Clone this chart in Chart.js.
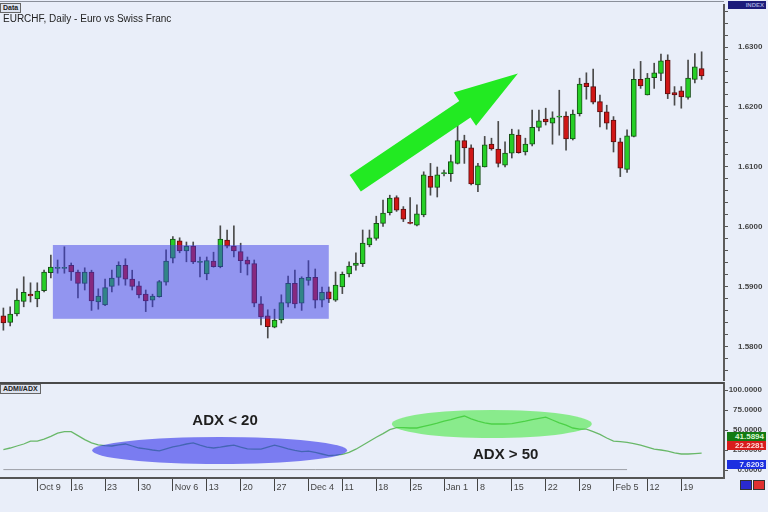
<!DOCTYPE html>
<html>
<head>
<meta charset="utf-8">
<script src="https://cdn.jsdelivr.net/npm/chart.js@4.4.1/dist/chart.umd.min.js"></script>
<style>
  body { margin: 0; background: #e9eef9; }
  #wrap { position: relative; width: 768px; height: 512px; overflow: hidden; background: #e9eef9; font-family: "Liberation Sans", Arial, sans-serif; }
  canvas { position: absolute; left: 0; }
  #priceChart { top: 0; }
  #adxChart { top: 381px; }
  .tag { position: absolute; font-size: 7px; font-weight: bold; line-height: 8px; box-sizing: border-box; }
  #dataTag { left: 0; top: 3px; padding: 0 2px; border: 1px solid #666; background: #dde3ef; color: #222; }
  #adxTag { left: 0; top: 384px; padding: 0 2px; border: 1px solid #666; background: #dde3ef; color: #222; }
  #title { position: absolute; left: 3px; top: 13px; font-size: 10px; color: #222; }
  #indexTag { left: 728px; top: 1px; width: 38px; height: 8px; background: #1b1b7a; color: #9aa0d8; text-align: right; padding-right: 2px; font-size: 6px; }
  .val { position: absolute; left: 727px; width: 39px; height: 9px; font-size: 8px; font-weight: bold; line-height: 9px; text-align: right; padding-right: 2px; box-sizing: border-box; }
  #plusDi { top: 432px; background: #137a13; color: #d8f5d0; }
  #minusDi { top: 441px; background: #d81c1c; color: #ffd8d8; }
  #adxVal { top: 460px; background: #1c2fe0; color: #e4e8ff; }
  .btn { position: absolute; top: 480px; width: 12px; height: 10px; box-sizing: border-box; border: 1px solid #333; }
</style>
</head>
<body>
<div id="wrap">
  <canvas id="priceChart" width="768" height="381"></canvas>
  <canvas id="adxChart" width="768" height="131"></canvas>
  <div id="dataTag" class="tag">Data</div>
  <div id="title">EURCHF, Daily - Euro vs Swiss Franc</div>
  <div id="indexTag" class="tag">INDEX</div>
  <div id="adxTag" class="tag">ADMI/ADX</div>
  <div id="plusDi" class="val">41.5894</div>
  <div id="minusDi" class="val">22.2281</div>
  <div id="adxVal" class="val">7.6203</div>
  <div class="btn" style="left:740px;background:#2a2ad0;"></div>
  <div class="btn" style="left:753px;background:#e03030;"></div>
</div>
<script>
// daily EURCHF candles, Oct 2 .. Feb 22
const open = [
  1.5852, 1.5841, 1.5855, 1.5876, 1.5888, 1.5880, 1.5894, 1.5924, 1.5931, 1.5931,
  1.5936, 1.5925, 1.5906, 1.5925, 1.5875, 1.5870, 1.5901, 1.5916, 1.5936, 1.5913,
  1.5902, 1.5888, 1.5878, 1.5884, 1.5908, 1.5948, 1.5977, 1.5960, 1.5968, 1.5941,
  1.5922, 1.5943, 1.5934, 1.5978, 1.5968, 1.5959, 1.5945, 1.5939, 1.5872, 1.5852,
  1.5833, 1.5845, 1.5873, 1.5906, 1.5873, 1.5911, 1.5916, 1.5878, 1.5892, 1.5878,
  1.5900, 1.5922, 1.5936, 1.5939, 1.5970, 1.5981, 1.6006, 1.6024, 1.6049, 1.6030,
  1.6007, 1.6003, 1.6020, 1.6085, 1.6066, 1.6089, 1.6089, 1.6106, 1.6144, 1.6132,
  1.6070, 1.6100, 1.6138, 1.6130, 1.6103, 1.6123, 1.6153, 1.6125, 1.6138, 1.6166,
  1.6180, 1.6173, 1.6183, 1.6185, 1.6147, 1.6189, 1.6240, 1.6234, 1.6209, 1.6192,
  1.6178, 1.6142, 1.6096, 1.6151, 1.6246, 1.6220, 1.6249, 1.6256, 1.6278, 1.6224,
  1.6227, 1.6216, 1.6246, 1.6264
];
const high = [
  1.5865, 1.5867, 1.5897, 1.5917, 1.5907, 1.5907, 1.5928, 1.5953, 1.5945, 1.5967,
  1.5940, 1.5928, 1.5932, 1.5928, 1.5897, 1.5913, 1.5928, 1.5942, 1.5947, 1.5928,
  1.5909, 1.5895, 1.5888, 1.5911, 1.5962, 1.5984, 1.5982, 1.5975, 1.5975, 1.5950,
  1.5950, 1.5958, 1.6002, 1.5995, 1.6002, 1.5973, 1.5950, 1.5945, 1.5884, 1.5862,
  1.5863, 1.5887, 1.5918, 1.5928, 1.5917, 1.5944, 1.5930, 1.5900, 1.5900, 1.5925,
  1.5925, 1.5942, 1.5957, 1.5995, 1.5995, 1.6018, 1.6045, 1.6053, 1.6052, 1.6034,
  1.6049, 1.6037, 1.6092, 1.6106, 1.6100, 1.6095, 1.6120, 1.6170, 1.6153, 1.6137,
  1.6106, 1.6151, 1.6148, 1.6176, 1.6142, 1.6163, 1.6162, 1.6148, 1.6195, 1.6195,
  1.6198, 1.6192, 1.6228, 1.6192, 1.6195, 1.6248, 1.6257, 1.6263, 1.6220, 1.6203,
  1.6184, 1.6148, 1.6162, 1.6263, 1.6276, 1.6256, 1.6273, 1.6288, 1.6287, 1.6234,
  1.6234, 1.6278, 1.6289, 1.6292
];
const low = [
  1.5828, 1.5835, 1.5852, 1.5867, 1.5875, 1.5867, 1.5892, 1.5915, 1.5923, 1.5923,
  1.5911, 1.5882, 1.5895, 1.5861, 1.5863, 1.5869, 1.5892, 1.5903, 1.5903, 1.5895,
  1.5882, 1.5859, 1.5867, 1.5883, 1.5903, 1.5940, 1.5957, 1.5942, 1.5939, 1.5917,
  1.5912, 1.5933, 1.5932, 1.5965, 1.5950, 1.5924, 1.5920, 1.5867, 1.5837, 1.5815,
  1.5832, 1.5840, 1.5867, 1.5865, 1.5861, 1.5903, 1.5865, 1.5867, 1.5874, 1.5876,
  1.5889, 1.5917, 1.5928, 1.5934, 1.5967, 1.5978, 1.6001, 1.6020, 1.6026, 1.6009,
  1.6005, 1.6002, 1.6017, 1.6053, 1.6050, 1.6085, 1.6076, 1.6105, 1.6106, 1.6070,
  1.6059, 1.6100, 1.6128, 1.6100, 1.6100, 1.6115, 1.6123, 1.6120, 1.6135, 1.6160,
  1.6170, 1.6138, 1.6153, 1.6128, 1.6145, 1.6185, 1.6213, 1.6205, 1.6167, 1.6163,
  1.6125, 1.6084, 1.6091, 1.6150, 1.6231, 1.6220, 1.6231, 1.6244, 1.6214, 1.6203,
  1.6198, 1.6213, 1.6240, 1.6246
];
const close = [
  1.5840, 1.5855, 1.5878, 1.5891, 1.5885, 1.5893, 1.5925, 1.5933, 1.5932, 1.5932,
  1.5925, 1.5906, 1.5925, 1.5877, 1.5885, 1.5899, 1.5915, 1.5936, 1.5913, 1.5901,
  1.5887, 1.5877, 1.5885, 1.5909, 1.5943, 1.5980, 1.5960, 1.5968, 1.5942, 1.5942,
  1.5944, 1.5934, 1.5980, 1.5968, 1.5960, 1.5944, 1.5938, 1.5873, 1.5850, 1.5834,
  1.5845, 1.5874, 1.5906, 1.5872, 1.5915, 1.5916, 1.5878, 1.5891, 1.5880, 1.5903,
  1.5921, 1.5935, 1.5940, 1.5973, 1.5982, 1.6006, 1.6023, 1.6048, 1.6028, 1.6013,
  1.6006, 1.6022, 1.6087, 1.6066, 1.6087, 1.6090, 1.6109, 1.6144, 1.6132, 1.6072,
  1.6102, 1.6137, 1.6130, 1.6106, 1.6123, 1.6155, 1.6124, 1.6138, 1.6166, 1.6177,
  1.6175, 1.6182, 1.6184, 1.6147, 1.6188, 1.6238, 1.6234, 1.6208, 1.6192, 1.6173,
  1.6142, 1.6098, 1.6152, 1.6246, 1.6235, 1.6248, 1.6257, 1.6277, 1.6222, 1.6220,
  1.6217, 1.6248, 1.6267, 1.6252
];
// ADX line of the lower panel
const adx = [
  25.5, 27.5, 30, 32.5, 36, 36, 38.5, 42, 46, 48,
  48, 43, 38, 34, 31.5, 30.5, 30, 31.5, 32.5, 30,
  27.5, 26.5, 25, 24, 26.5, 29, 30.5, 32.5, 34, 31,
  28.5, 27.5, 28.5, 30, 31, 28.5, 26.5, 26, 26, 28.5,
  31, 29, 26.5, 24.5, 23, 23.5, 22, 20, 18, 18.5,
  19.5, 22, 26, 31, 36, 41, 45.5, 50.5, 53, 53,
  52.5, 52.5, 54.5, 56.5, 58.5, 61, 63, 65.5, 67.5, 64,
  61, 59, 57.5, 57.5, 57.5, 58, 59.5, 61, 63, 64.5,
  66, 62.5, 59, 56, 52.5, 51, 51, 48, 44.5, 40,
  36, 35.5, 34.5, 33, 31, 28.5, 26, 25, 23.5, 21.5,
  20, 20, 20.5, 21
];
// flat grey line near the bottom of the lower panel
const floorLine = [{ x: 0, y: 0.5 }, { x: 92, y: 0.5 }];

const weekPos = [5, 10, 15, 20, 25, 30, 35, 40, 45, 50, 55, 60, 65, 70, 75, 80, 85, 90, 95, 100];
const weekLabels = ['Oct 9', '16', '23', '30', 'Nov 6', '13', '20', '27', 'Dec 4', '11',
  '18', '25', 'Jan 1', '8', '15', '22', '29', 'Feb 5', '12', '19'];
const priceTicks = [1.58, 1.59, 1.60, 1.61, 1.62, 1.63];
const priceLabels = ['1.5800', '1.5900', '1.6000', '1.6100', '1.6200', '1.6300'];
const adxTicks = [0, 25, 50, 75, 100];
const adxLabels = ['0.0000', '25.0000', '50.0000', '75.0000', '100.0000'];

const X_MIN = -0.5, X_MAX = 106.3;
const GREEN = '#26cf26', RED = '#d01616';
const idx = open.map((v, i) => i);

// annotations, in data units
const rangeBox = { x0: 7.3, x1: 48.0, y0: 1.5847, y1: 1.5970 };
const trendArrow = { x0: 51.9, y0: 1.6073, x1: 75.9, y1: 1.6256 };
const quietZone = { x0: 13.1, x1: 50.7, y0: 7.5, y1: 41.3 };
const strongZone = { x0: 57.3, x1: 86.8, y0: 40, y1: 75 };

const tickFont = { family: 'Liberation Sans', size: 8, weight: 'bold' };
const noPad = s => { s.paddingTop = 0; s.paddingBottom = 0; s.paddingLeft = 0; s.paddingRight = 0; };

const priceOverlay = {
  id: 'priceOverlay',
  afterDatasetsDraw(chart) {
    const { ctx, scales: { x, y }, chartArea } = chart;
    ctx.save();
    // sideways range
    ctx.fillStyle = 'rgba(60,60,232,0.5)';
    const bx = x.getPixelForValue(rangeBox.x0), by = y.getPixelForValue(rangeBox.y1);
    ctx.fillRect(bx, by, x.getPixelForValue(rangeBox.x1) - bx, y.getPixelForValue(rangeBox.y0) - by);
    // trend arrow
    const tx = x.getPixelForValue(trendArrow.x0), ty = y.getPixelForValue(trendArrow.y0);
    const hx = x.getPixelForValue(trendArrow.x1), hy = y.getPixelForValue(trendArrow.y1);
    const len = Math.hypot(hx - tx, hy - ty);
    const ux = (hx - tx) / len, uy = (hy - ty) / len;
    const px = -uy, py = ux;
    const shaft = 10, head = 20, headLen = 64;
    const jx = hx - ux * headLen, jy = hy - uy * headLen;
    ctx.fillStyle = '#22ea22';
    ctx.beginPath();
    ctx.moveTo(tx + px * shaft, ty + py * shaft);
    ctx.lineTo(jx + px * shaft, jy + py * shaft);
    ctx.lineTo(jx + px * head, jy + py * head);
    ctx.lineTo(hx, hy);
    ctx.lineTo(jx - px * head, jy - py * head);
    ctx.lineTo(jx - px * shaft, jy - py * shaft);
    ctx.lineTo(tx - px * shaft, ty - py * shaft);
    ctx.closePath();
    ctx.fill();
    // top frame line
    ctx.strokeStyle = '#8a8f9a';
    ctx.lineWidth = 1;
    ctx.beginPath();
    ctx.moveTo(0, 1.5);
    ctx.lineTo(chartArea.right, 1.5);
    ctx.stroke();
    ctx.restore();
  }
};

new Chart(document.getElementById('priceChart'), {
  type: 'bar',
  data: {
    datasets: [
      {
        label: 'body',
        data: idx.map(i => ({ x: i, y: [open[i], close[i]] })),
        grouped: false,
        barThickness: 5,
        minBarLength: 1,
        backgroundColor: c => close[c.dataIndex] >= open[c.dataIndex] ? GREEN : RED,
        borderColor: c => close[c.dataIndex] >= open[c.dataIndex] ? '#174f17' : '#5a1010',
        borderWidth: 1,
        borderSkipped: false,
        order: 0
      },
      {
        label: 'wick',
        data: idx.map(i => ({ x: i, y: [low[i], high[i]] })),
        grouped: false,
        barThickness: 1,
        backgroundColor: '#4a4a4a',
        order: 1
      }
    ]
  },
  options: {
    responsive: false,
    animation: false,
    layout: { padding: { top: 5, bottom: 0, left: 0, right: 0 } },
    plugins: { legend: { display: false }, tooltip: { enabled: false } },
    scales: {
      x: { type: 'linear', min: X_MIN, max: X_MAX, display: false, offset: false },
      y: {
        position: 'right',
        min: 1.63 - 334 / 6000,
        max: 1.637,
        afterFit(s) { s.width = 44; noPad(s); },
        afterBuildTicks(s) {
          const t = [];
          for (let k = 0; k <= 30; k++) t.push({ value: +(1.576 + k * 0.002).toFixed(3) });
          s.ticks = t;
        },
        border: { display: true, color: '#5c5c5c', width: 2 },
        grid: { drawOnChartArea: false, drawTicks: true, tickLength: 4, color: '#555' },
        ticks: {
          padding: 10,
          color: '#444',
          font: tickFont,
          autoSkip: false,
          callback: v => {
            const k = priceTicks.findIndex(p => Math.abs(p - v) < 1e-6);
            return k >= 0 ? priceLabels[k] : '';
          }
        }
      }
    }
  },
  plugins: [priceOverlay]
});

const adxOverlay = {
  id: 'adxOverlay',
  afterDatasetsDraw(chart) {
    const { ctx, scales: { x, y }, chartArea } = chart;
    ctx.save();
    const ell = (z, color) => {
      const x0 = x.getPixelForValue(z.x0), x1 = x.getPixelForValue(z.x1);
      const y0 = y.getPixelForValue(z.y0), y1 = y.getPixelForValue(z.y1);
      ctx.fillStyle = color;
      ctx.beginPath();
      ctx.ellipse((x0 + x1) / 2, (y0 + y1) / 2, (x1 - x0) / 2, Math.abs(y0 - y1) / 2, 0, 0, Math.PI * 2);
      ctx.fill();
    };
    ell(quietZone, 'rgba(42,42,234,0.58)');
    ell(strongZone, 'rgba(50,232,40,0.52)');
    ctx.fillStyle = '#1e1e1e';
    ctx.font = 'bold 15px "Liberation Sans", Arial, sans-serif';
    ctx.textAlign = 'center';
    ctx.textBaseline = 'middle';
    ctx.fillText('ADX < 20', x.getPixelForValue(32.7), y.getPixelForValue(61));
    ctx.fillText('ADX > 50', x.getPixelForValue(74.1), y.getPixelForValue(18.7));
    // panel separator
    ctx.strokeStyle = '#4a4a4a';
    ctx.lineWidth = 2;
    ctx.beginPath();
    ctx.moveTo(0, chartArea.top);
    ctx.lineTo(chartArea.right, chartArea.top);
    ctx.stroke();
    ctx.restore();
  }
};

new Chart(document.getElementById('adxChart'), {
  type: 'line',
  data: {
    datasets: [
      {
        label: 'ADX',
        data: idx.map(i => ({ x: i, y: adx[i] })),
        borderColor: '#69b869',
        borderWidth: 1.3,
        pointRadius: 0,
        tension: 0
      },
      {
        label: 'floor',
        data: floorLine,
        borderColor: '#9c9ea6',
        borderWidth: 1,
        pointRadius: 0
      }
    ]
  },
  options: {
    responsive: false,
    animation: false,
    layout: { padding: { top: 2, bottom: 0, left: 0, right: 6 } },
    plugins: { legend: { display: false }, tooltip: { enabled: false } },
    scales: {
      x: {
        type: 'linear', min: X_MIN, max: X_MAX, offset: false,
        afterFit(s) { s.height = 34; noPad(s); },
        afterBuildTicks(s) { s.ticks = weekPos.map(v => ({ value: v })); },
        border: { display: true, color: '#555', width: 2 },
        grid: { drawOnChartArea: false, drawTicks: true, tickLength: 13, color: '#444' },
        ticks: {
          align: 'start', labelOffset: 2, padding: -9, maxRotation: 0, autoSkip: false,
          color: '#444', font: { family: 'Liberation Sans', size: 9 },
          callback: (v, i) => weekLabels[i]
        }
      },
      y: {
        position: 'right', min: -10, max: 108.75,
        afterFit(s) { s.width = 38; noPad(s); },
        afterBuildTicks(s) { s.ticks = adxTicks.map(v => ({ value: v })); },
        border: { display: true, color: '#5c5c5c', width: 2 },
        grid: { drawOnChartArea: false, drawTicks: true, tickLength: 4, color: '#555' },
        ticks: {
          padding: 0, crossAlign: 'far', color: '#444', font: tickFont,
          callback: (v, i) => adxLabels[i]
        }
      }
    }
  },
  plugins: [adxOverlay]
});
</script>
</body>
</html>
